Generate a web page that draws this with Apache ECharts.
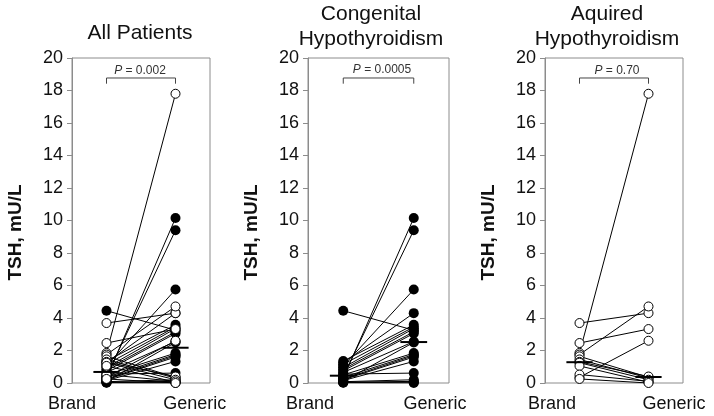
<!DOCTYPE html>
<html>
<head>
<meta charset="utf-8">
<script src="https://cdn.jsdelivr.net/npm/echarts@6/dist/echarts.min.js"></script>
<style>html,body{margin:0;padding:0;background:#fff}#c{width:714px;height:416px}</style>
</head>
<body>
<div id="c"></div>
<script>
// ---- data ----
const xCategories = ['Brand', 'Generic'];
const yTickMin = 0, yTickMax = 20, yTickStep = 2;
const panelTitles = ['All Patients', 'Congenital\nHypothyroidism', 'Aquired\nHypothyroidism'];
const pValues = ['0.002', '0.0005', '0.70'];

// Congenital hypothyroidism (filled circles)
const congBrand   = [4.45, 0.30, 0.42, 1.05, 1.25, 1.35, 1.15, 0.95, 0.85, 0.75, 0.65, 0.10, 0.50, 0.35, 0.25, 0.20, 0.15, 0.55, 0.08, 0.05, 0.03, 0.01];
const congGeneric = [3.25, 10.15, 9.40, 5.75, 4.30, 3.58, 3.45, 3.35, 3.15, 3.05, 2.55, 2.50, 1.84, 1.75, 1.68, 1.60, 1.33, 0.61, 0.20, 0.10, 0.05, 0.00];

// Acquired hypothyroidism (open circles)
const acqBrand   = [3.69, 2.46, 1.85, 1.75, 0.35, 1.64, 1.45, 1.30, 1.25, 1.05, 0.52, 0.25];
const acqGeneric = [4.30, 3.32, 17.80, 4.71, 2.60, 0.35, 0.30, 0.40, 0.20, 0.05, 0.10, 0.00];

// Median bars [brand, generic]
const medianAll  = [0.68, 2.17];
const medianCong = [0.45, 2.52];
const medianAcq  = [1.28, 0.37];

// ---- layout ----
const FONT = "'Liberation Sans', Arial, sans-serif";
const gridLeft = [72, 308, 545];
const gridWidth = [138, 141, 138];
const gridTop = 58, gridHeight = 325;
const labelPos = [[0.5, 2.28], [0.53, 2.3], [0.6, 2.37]];
const titlePos = [[140, 33], [371, 27], [607, 27]];
const pPos = [[140, 71], [382, 70], [617, 71]];

const grids = [], xAxes = [], yAxes = [], series = [];
for (let i = 0; i < 3; i++) {
  grids.push({left: gridLeft[i], width: gridWidth[i], top: gridTop, height: gridHeight,
    show: true, borderColor: '#8c8c8c', borderWidth: 1, containLabel: false});
  xAxes.push({type: 'value', gridIndex: i, min: 0.5, max: 2.5,
    axisLine: {show: false}, axisTick: {show: false}, splitLine: {show: false},
    axisLabel: {customValues: labelPos[i], margin: 12, color: '#111', fontSize: 18, fontFamily: FONT,
      formatter: v => (v < 1.5 ? xCategories[0] : xCategories[1])}});
  yAxes.push({type: 'value', gridIndex: i, min: yTickMin, max: yTickMax, interval: yTickStep,
    name: 'TSH, mU/L', nameLocation: 'middle', nameGap: 47,
    nameTextStyle: {fontSize: 19, fontWeight: 'bold', color: '#111', fontFamily: FONT, padding: [0, 24, 0, 0]},
    axisLine: {show: true, lineStyle: {color: '#8c8c8c'}},
    axisTick: {show: true, length: 5, lineStyle: {color: '#8c8c8c'}},
    splitLine: {show: false},
    axisLabel: {margin: 9, color: '#111', fontSize: 18, fontFamily: FONT}});
}

function addPairs(idx, brand, generic, open) {
  for (let k = 0; k < brand.length; k++) {
    series.push({type: 'line', xAxisIndex: idx, yAxisIndex: idx,
      data: [[1, brand[k]], [2, generic[k]]],
      symbol: 'circle', symbolSize: open ? 9 : 10, showSymbol: true,
      lineStyle: {color: '#000', width: 1},
      itemStyle: {color: open ? '#fff' : '#000', borderColor: '#000', borderWidth: open ? 1 : 0},
      z: open ? 4 : 3, silent: true, animation: false});
  }
}
function addMedian(idx, med) {
  series.push({type: 'line', xAxisIndex: idx, yAxisIndex: idx, symbol: 'none',
    data: [[0.81, med[0]], [1.19, med[0]]], lineStyle: {color: '#000', width: 2}, z: 5, silent: true, animation: false});
  series.push({type: 'line', xAxisIndex: idx, yAxisIndex: idx, symbol: 'none',
    data: [[1.81, med[1]], [2.19, med[1]]], lineStyle: {color: '#000', width: 2}, z: 5, silent: true, animation: false});
}
function addBracket(idx) {
  series.push({type: 'line', xAxisIndex: idx, yAxisIndex: idx, symbol: 'none',
    data: [[1, 18.42], [1, 18.77], [2, 18.77], [2, 18.42]],
    lineStyle: {color: '#444', width: 1}, silent: true, animation: false});
}

// All patients
addPairs(0, congBrand, congGeneric, false);
addPairs(0, acqBrand, acqGeneric, true);
addMedian(0, medianAll);
addBracket(0);
// Congenital
addPairs(1, congBrand, congGeneric, false);
addMedian(1, medianCong);
addBracket(1);
// Acquired
addPairs(2, acqBrand, acqGeneric, true);
addMedian(2, medianAcq);
addBracket(2);

const graphics = [];
for (let i = 0; i < 3; i++) {
  graphics.push({type: 'text', x: titlePos[i][0], y: titlePos[i][1],
    style: {text: panelTitles[i], font: '21px ' + FONT, fill: '#111', align: 'center', verticalAlign: 'middle', lineHeight: 25}});
  graphics.push({type: 'text', x: pPos[i][0], y: pPos[i][1],
    style: {text: '{i|P} = ' + pValues[i], font: '12px ' + FONT, fill: '#333', align: 'center', verticalAlign: 'middle',
      rich: {i: {fontStyle: 'italic', fontSize: 12, fontFamily: FONT, fill: '#333'}}}});
}

const chart = echarts.init(document.getElementById('c'), null, {renderer: 'canvas'});
chart.setOption({
  animation: false,
  backgroundColor: '#fff',
  grid: grids, xAxis: xAxes, yAxis: yAxes, series: series,
  graphic: graphics
});
</script>
</body>
</html>
